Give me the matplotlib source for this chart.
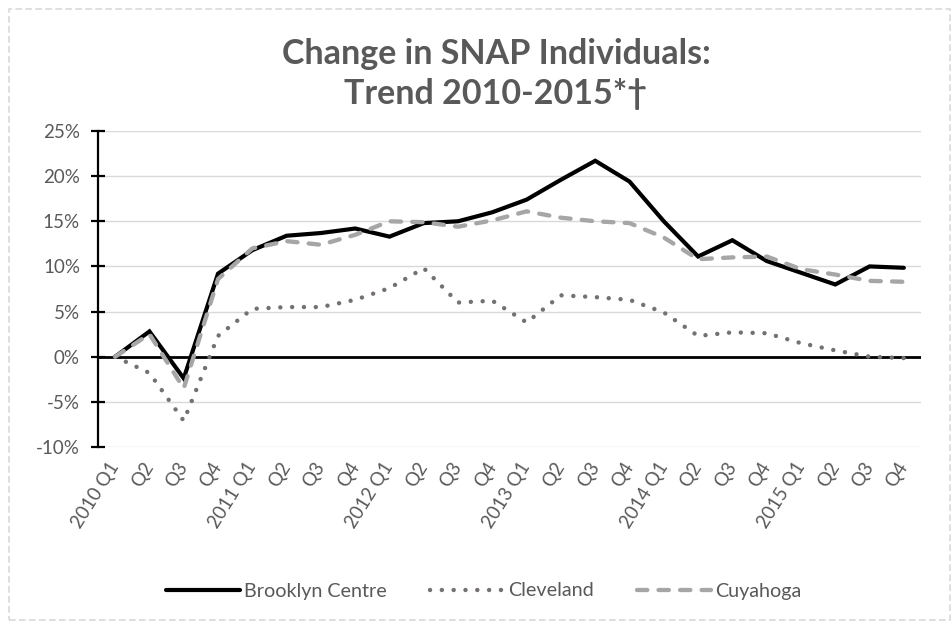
import matplotlib
matplotlib.use("Agg")
import matplotlib.pyplot as plt
from matplotlib.patches import Rectangle
from matplotlib.ticker import FuncFormatter, MultipleLocator

quarters = ["2010 Q1", "Q2", "Q3", "Q4", "2011 Q1", "Q2", "Q3", "Q4",
            "2012 Q1", "Q2", "Q3", "Q4", "2013 Q1", "Q2", "Q3", "Q4",
            "2014 Q1", "Q2", "Q3", "Q4", "2015 Q1", "Q2", "Q3", "Q4"]
brooklyn = [0.0, 2.8, -2.4, 9.2, 11.8, 13.4, 13.7, 14.2, 13.3, 14.8, 15.0, 16.0,
            17.4, 19.6, 21.7, 19.4, 15.0, 11.1, 12.9, 10.6, 9.3, 8.0, 10.0, 9.85]
cleveland = [0.0, -1.8, -7.1, 2.3, 5.3, 5.5, 5.5, 6.3, 7.6, 9.8, 6.0, 6.2,
             3.8, 6.8, 6.6, 6.3, 4.9, 2.3, 2.7, 2.6, 1.5, 0.7, 0.0, -0.15]
cuyahoga = [0.0, 2.5, -3.5, 8.6, 12.0, 12.8, 12.4, 13.5, 15.0, 14.9, 14.4, 15.1,
            16.1, 15.4, 15.0, 14.8, 13.2, 10.8, 11.0, 11.1, 9.7, 9.1, 8.4, 8.3]
series_names = ["Brooklyn Centre", "Cleveland", "Cuyahoga"]

FONT = ["Lato", "DejaVu Sans"]
TXT = "#595959"
plt.rcParams["font.family"] = FONT

fig = plt.figure(figsize=(9.53, 6.25), dpi=100)
ax = fig.add_axes([98/953, 1 - 447/625, (921-98)/953, (447-131)/625])

x = list(range(len(quarters)))
ax.plot(x, brooklyn, color="black", lw=3.0, solid_capstyle="round",
        solid_joinstyle="miter", label=series_names[0], zorder=5)
ax.plot(x, cleveland, color="#767171", lw=3.2, linestyle=(0, (0.01, 2.65)),
        dash_capstyle="round", label=series_names[1], zorder=4)
ax.plot(x, cuyahoga, color="#a6a6a6", lw=3.1, linestyle=(0, (2.4, 2.6)),
        dash_capstyle="round", label=series_names[2], zorder=6)

ax.set_xlim(-0.5, len(quarters) - 0.5)
ax.set_ylim(-10, 25)
ax.yaxis.set_major_locator(MultipleLocator(5))
ax.yaxis.set_major_formatter(FuncFormatter(lambda v, p: f"{int(round(v))}%"))
ax.grid(axis="y", color="#d9d9d9", lw=1.0, zorder=0)
ax.axhline(0, color="black", lw=2.0, zorder=3)

for s in ["top", "right", "bottom"]:
    ax.spines[s].set_visible(False)
ax.spines["left"].set_color("black")
ax.spines["left"].set_linewidth(1.6)
ax.tick_params(axis="y", direction="inout", length=10, width=1.6, color="black",
               labelsize=13.5, labelcolor=TXT, pad=8)
ax.set_xticks(x)
ax.set_xticklabels(quarters, rotation=58, ha="right", va="center",
                   rotation_mode="anchor", fontsize=13.5, color=TXT)
ax.tick_params(axis="x", length=0, pad=12)

fig.text(496/953, 1 - 74/625, "Change in SNAP Individuals:\nTrend 2010-2015*\u2020",
         ha="center", va="center", fontsize=24.5, fontweight="bold", color=TXT,
         linespacing=1.3)

leg = fig.legend(loc="center", bbox_to_anchor=(484/953, 1 - 591/625), ncol=3,
                 frameon=False, fontsize=14.2, handlelength=3.75, columnspacing=2.2,
                 handletextpad=0.2)
for t in leg.get_texts():
    t.set_color(TXT)

fig.patches.append(Rectangle((9/953, 1 - 620/625), 941/953, 611/625,
                             transform=fig.transFigure, fill=False,
                             edgecolor="#d9d9d9", lw=1.2, linestyle=(0, (4, 2))))

fig.savefig("out.png", dpi=100)
